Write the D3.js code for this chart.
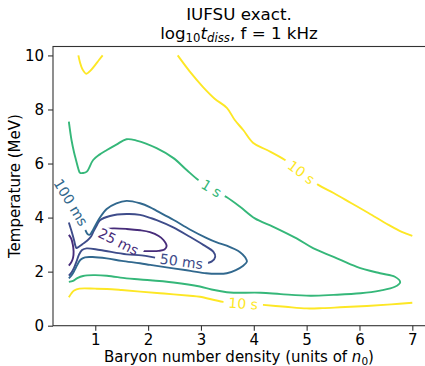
<!DOCTYPE html>
<html>
<head>
<meta charset="utf-8">
<script src="https://cdn.jsdelivr.net/npm/d3@7"></script>
<style>
  body { margin: 0; background: #fff; }
  svg text { font-family: "DejaVu Sans", sans-serif; }
</style>
</head>
<body>
<svg id="chart" width="425" height="366"></svg>
<script>
// --- data (x: n/n0, y: T in MeV) ---
const xTicks = [1, 2, 3, 4, 5, 6, 7];
const yTicks = [0, 2, 4, 6, 8, 10];
const levelNames = ["25 ms", "50 ms", "100 ms", "1 s", "10 s"];

const c25msLoop = [[1.91,2.76],[1.7,2.86],[1.44,3.11],[1.2,3.35],[1.06,3.47],[1.05,3.53],[1.1,3.56],[1.34,3.60],[1.594,3.58],[1.85,3.53],[2.035,3.46],[2.2,3.32],[2.29,3.17],[2.35,2.95],[2.31,2.82],[2.2,2.77],[2.05,2.76],[1.91,2.76]];
const c25msEdge = [[0.5,3.36],[0.545,3.22],[0.575,3.0],[0.59,2.75],[0.58,2.52],[0.55,2.36],[0.5,2.22]];
const c50ms = [[0.5,3.82],[0.55,3.5],[0.6,3.15],[0.625,2.95],[0.645,2.87],[0.69,2.92],[0.76,3.02],[0.85,3.15],[0.92,3.3],[0.97,3.5],[1.03,3.72],[1.089,3.9],[1.278,4.06],[1.594,4.13],[1.846,4.10],[2.04,3.99],[2.162,3.91],[2.476,3.64],[2.79,3.29],[3.044,2.99],[3.233,2.74],[3.27,2.55],[3.2,2.37],[3.077,2.31],[2.9,2.31],[2.63,2.38],[2.19,2.50],[1.878,2.60],[1.594,2.64],[1.089,2.80],[0.837,2.86],[0.75,2.8],[0.69,2.62],[0.65,2.4],[0.6,2.15],[0.55,1.97],[0.5,1.85]];
const c100ms = [[0.5,4.68],[0.538,4.56],[0.6,4.36],[0.7,4.03],[0.77,3.76],[0.81,3.55],[0.85,3.40],[0.89,3.36],[0.94,3.48],[1.0,3.70],[1.089,4.0],[1.216,4.32],[1.4,4.53],[1.594,4.62],[1.846,4.53],[2.04,4.38],[2.162,4.25],[2.476,3.92],[2.79,3.56],[3.11,3.24],[3.3,3.08],[3.487,2.96],[3.74,2.72],[3.84,2.52],[3.87,2.37],[3.8,2.22],[3.66,2.06],[3.49,1.94],[3.3,1.92],[3.1,1.94],[2.8,2.03],[2.476,2.12],[2.04,2.25],[1.846,2.31],[1.5,2.4],[1.216,2.49],[0.95,2.54],[0.805,2.53],[0.72,2.44],[0.66,2.25],[0.6,2.02],[0.55,1.86],[0.5,1.75]];
const c1s = [[0.5,7.55],[0.55,6.87],[0.6,6.4],[0.635,6.13],[0.68,5.8],[0.71,5.66],[0.77,5.65],[0.84,5.7],[0.96,6.13],[1.08,6.33],[1.22,6.5],[1.4,6.7],[1.59,6.9],[1.78,6.85],[2.16,6.57],[2.48,6.2],[2.73,5.76],[2.95,5.39],[3.2,5.08],[3.49,4.75],[3.74,4.4],[4.02,3.97],[4.37,3.66],[4.81,3.23],[5.13,2.86],[5.51,2.55],[5.95,2.18],[6.39,1.94],[6.67,1.81],[6.77,1.61],[6.67,1.44],[6.39,1.3],[6.02,1.2],[5.51,1.14],[5.07,1.11],[4.51,1.17],[4.13,1.22],[3.62,1.22],[3.49,1.24],[3.2,1.34],[2.98,1.45],[2.48,1.6],[1.85,1.71],[1.59,1.75],[1.22,1.85],[0.96,1.87],[0.77,1.84],[0.66,1.76],[0.58,1.66],[0.5,1.62]];
const c10sCorner = [[0.68,10.0],[0.71,9.75],[0.76,9.48],[0.83,9.32],[0.9,9.42],[1.0,9.65],[1.07,9.83],[1.14,10.0]];
const c10sUpper = [[2.56,10.0],[2.79,9.4],[3.04,8.83],[3.26,8.4],[3.49,8.06],[3.64,7.61],[3.8,7.24],[3.99,6.76],[4.25,6.5],[4.59,6.13],[4.9,5.68],[5.22,5.21],[5.51,4.91],[5.84,4.54],[6.17,4.17],[6.55,3.73],[6.8,3.47],[7.0,3.32]];
const c10sLower = [[0.5,1.05],[0.55,1.2],[0.6,1.3],[0.7,1.37],[1.0,1.37],[1.22,1.36],[1.5,1.32],[1.85,1.26],[2.3,1.19],[2.79,1.11],[2.98,1.07],[3.42,0.88],[3.8,0.82],[4.18,0.77],[4.6,0.7],[5.0,0.64],[5.3,0.65],[5.63,0.68],[6.14,0.73],[6.6,0.79],[7.0,0.85]];

// which level each line belongs to (index into levelNames)
const contours = [
  { id: "c25a", level: 0, pts: c25msLoop },
  { id: "c25b", level: 0, pts: c25msEdge },
  { id: "c50", level: 1, pts: c50ms },
  { id: "c100", level: 2, pts: c100ms },
  { id: "c1", level: 3, pts: c1s },
  { id: "c10a", level: 4, pts: c10sCorner },
  { id: "c10b", level: 4, pts: c10sUpper },
  { id: "c10c", level: 4, pts: c10sLower }
];
// inline labels: line id, position on it (data coords)
const labelLine = ["c100", "c25a", "c50", "c1", "c10b", "c10c"];
const labelX = [0.538, 1.44, 2.63, 3.2, 4.9, 3.8];
const labelY = [4.56, 3.11, 2.38, 5.08, 5.68, 0.82];

// viridis colours for the levels
const levelColors = ["#472c7a", "#3e4c8a", "#31688e", "#35b779", "#fde725"];

const W = 425, H = 366;
const margin = { left: 53, top: 46.5, bottom: 325.7 };
const x = d3.scaleLinear().domain([0.2, 7.24]).range([margin.left, 425]);
const y = d3.scaleLinear().domain([0, 10.33]).range([margin.bottom, margin.top]);

const svg = d3.select("#chart");
const defs = svg.append("defs");
const labelSize = 14;

// title
const title = svg.append("g").attr("font-size", 16.7).attr("fill", "#000").attr("text-anchor", "middle");
title.append("text").attr("x", 239).attr("y", 20).text("IUFSU exact.");
let t2 = title.append("text").attr("x", 239).attr("y", 38.5);
t2.append("tspan").text("log");
t2.append("tspan").attr("font-size", 11.7).attr("dy", 3.5).text("10");
t2.append("tspan").attr("font-style", "italic").attr("dy", -3.5).text("t");
t2.append("tspan").attr("font-style", "italic").attr("font-size", 11.7).attr("dy", 3.5).text("diss");
t2.append("tspan").attr("dy", -3.5).text(", f = 1 kHz");

// contour lines
const line = d3.line().x(d => x(d[0])).y(d => y(d[1])).curve(d3.curveCatmullRom.alpha(0.5));
const lineG = svg.append("g");
const labelG = svg.append("g");

// labels first so we know their size for the gaps
let labelInfo = [];
for (let i = 0; i < labelLine.length; i++) {
  let c = contours.find(d => d.id === labelLine[i]);
  let px = x(labelX[i]), py = y(labelY[i]);
  // direction of the line near the label
  let best = 0, bestD = 1e9;
  c.pts.forEach((p, j) => {
    let dd = (x(p[0]) - px) ** 2 + (y(p[1]) - py) ** 2;
    if (dd < bestD) { bestD = dd; best = j; }
  });
  let a = c.pts[Math.max(best - 1, 0)], b = c.pts[Math.min(best + 1, c.pts.length - 1)];
  let ang = Math.atan2(y(b[1]) - y(a[1]), x(b[0]) - x(a[0])) * 180 / Math.PI;
  if (ang > 90) ang -= 180;
  if (ang < -90) ang += 180;
  let txt = labelG.append("text")
    .attr("transform", `translate(${px},${py}) rotate(${ang})`)
    .attr("text-anchor", "middle")
    .attr("dy", "0.36em")
    .attr("font-size", labelSize)
    .attr("fill", levelColors[c.level])
    .text(levelNames[c.level]);
  let w = txt.node().getComputedTextLength();
  labelInfo.push({ id: c.id, px, py, ang, w });
}

contours.forEach(c => {
  let mine = labelInfo.filter(l => l.id === c.id);
  let path = lineG.append("path")
    .attr("d", line(c.pts))
    .attr("fill", "none")
    .attr("stroke", levelColors[c.level])
    .attr("stroke-width", 1.9)
    .attr("stroke-linejoin", "round");
  if (mine.length) {
    let m = defs.append("mask").attr("id", "m-" + c.id)
      .attr("maskUnits", "userSpaceOnUse")
      .attr("x", 0).attr("y", 0).attr("width", W).attr("height", H);
    m.append("rect").attr("width", W).attr("height", H).attr("fill", "#fff");
    mine.forEach(l => {
      m.append("rect")
        .attr("x", -l.w / 2 - 5).attr("y", -labelSize * 0.55)
        .attr("width", l.w + 10).attr("height", labelSize * 1.1)
        .attr("transform", `translate(${l.px},${l.py}) rotate(${l.ang})`)
        .attr("fill", "#000");
    });
    path.attr("mask", `url(#m-${c.id})`);
  }
});

// axes
const axisColor = "#333";
const gx = svg.append("g").attr("transform", `translate(0,${margin.bottom})`)
  .call(d3.axisBottom(x).tickValues(xTicks).tickSize(5).tickPadding(4).tickFormat(d3.format("d")));
const gy = svg.append("g").attr("transform", `translate(${margin.left},0)`)
  .call(d3.axisLeft(y).tickValues(yTicks).tickSize(5).tickPadding(4).tickFormat(d3.format("d")));
[gx, gy].forEach(g => {
  g.select(".domain").remove();
  g.selectAll("line").attr("stroke", axisColor).attr("stroke-width", 1.1);
  g.selectAll("text").attr("font-size", 15).attr("fill", "#000")
    .attr("font-family", "DejaVu Sans, sans-serif");
});
svg.append("rect")
  .attr("x", margin.left).attr("y", margin.top)
  .attr("width", 430 - margin.left).attr("height", margin.bottom - margin.top)
  .attr("fill", "none").attr("stroke", axisColor).attr("stroke-width", 1.1);

// axis labels
let xl = svg.append("text").attr("x", 239).attr("y", 362).attr("text-anchor", "middle")
  .attr("font-size", 15).attr("fill", "#000");
xl.append("tspan").text("Baryon number density (units of ");
xl.append("tspan").attr("font-style", "italic").text("n");
xl.append("tspan").attr("font-size", 10.5).attr("dy", 3).text("0");
xl.append("tspan").attr("dy", -3).text(")");

svg.append("text")
  .attr("transform", `translate(20,${(margin.top + margin.bottom) / 2}) rotate(-90)`)
  .attr("text-anchor", "middle").attr("font-size", 15).attr("fill", "#000")
  .text("Temperature (MeV)");
</script>
</body>
</html>
